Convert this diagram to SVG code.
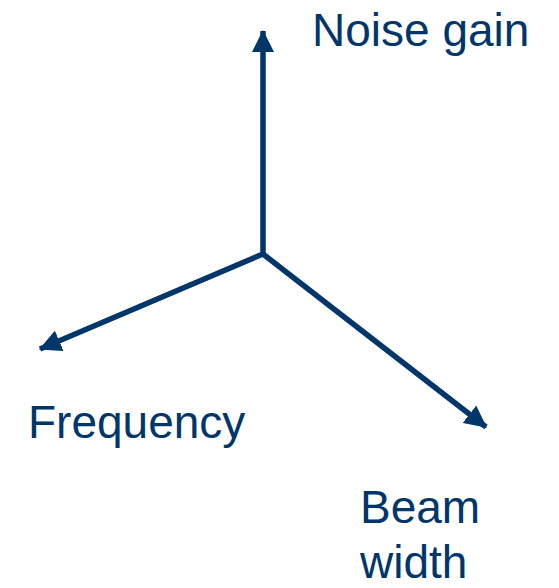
<svg xmlns="http://www.w3.org/2000/svg" width="559" height="588" viewBox="0 0 559 588">
<style>
.ax{stroke:#003669;stroke-width:5.5;fill:none;marker-end:url(#ah)}
.lbl{font-family:"Liberation Sans",Arial,sans-serif;font-size:46px;fill:#003669}
</style>
<defs>
<marker id="ah" markerUnits="userSpaceOnUse" markerWidth="22" markerHeight="22" viewBox="0 0 20 20" refX="19" refY="10" orient="auto">
<path d="M0,0 L20,10 L0,20 Z" fill="#003669"/>
</marker>
</defs>
<rect width="559" height="588" fill="#ffffff"/>
<g id="connectors">
<line class="ax" x1="263" y1="254" x2="263" y2="31"/>
<line class="ax" x1="263" y1="254" x2="40" y2="349"/>
<line class="ax" x1="263" y1="254" x2="486" y2="427"/>
</g>
<g id="noise-gain"><text class="lbl" x="312" y="46">Noise gain</text></g>
<g id="frequency"><text class="lbl" x="28" y="438">Frequency</text></g>
<g id="beam-width"><text class="lbl" x="360" y="523">Beam</text><text class="lbl" x="360" y="578">width</text></g>
</svg>
